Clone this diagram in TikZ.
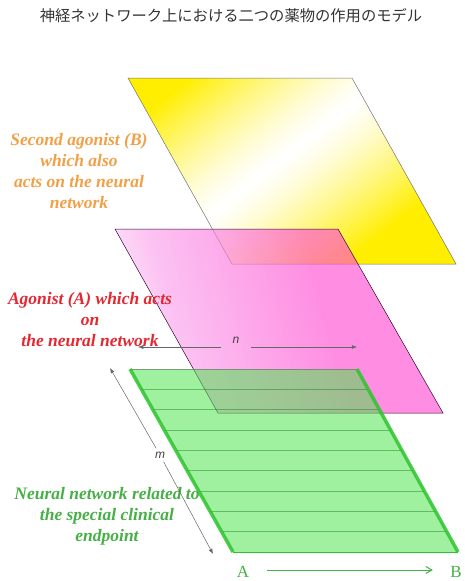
\documentclass[tikz,border=0pt]{standalone}
\usepackage{fontspec}
\setmainfont{Liberation Serif}
\setsansfont{Liberation Sans}
\newfontfamily\jpfont{Noto Sans CJK JP}
\usetikzlibrary{calc,arrows.meta}
\definecolor{agoB}{RGB}{242,160,70}
\definecolor{agoA}{RGB}{228,40,50}
\definecolor{netG}{RGB}{70,175,70}
\definecolor{sheetG}{RGB}{80,228,80}
\definecolor{edgeG}{RGB}{45,195,45}
\definecolor{pinkP}{RGB}{255,80,210}
\definecolor{pinkL}{RGB}{250,160,235}
\definecolor{yelY}{RGB}{255,238,0}
\pgfdeclarehorizontalshading{pinksheet}{100bp}{color(0bp)=(white); color(18bp)=(white);
  color(33bp)=(pinkL); color(58bp)=(pinkP); color(100bp)=(pinkP)}

\begin{document}
\begin{tikzpicture}[x=1pt,y=-1pt,>=Latex,
  sheet/.style={draw=black!55,line width=0.5pt},
  lbl/.style={font=\bfseries\itshape\fontsize{17.5}{21}\selectfont,align=center},
  dimline/.style={->,black!60,line width=0.5pt},
  stripe/.style={draw=green!45!black,draw opacity=0.4,line width=0.5pt}]
  \useasboundingbox (0,0) rectangle (465,581);
  % title
  \node[font=\jpfont\fontsize{15.3}{18}\selectfont,text=black!80] (title) at (231,16)
    {神経ネットワーク上における二つの薬物の作用のモデル};
  % corners of the three sheets
  \coordinate (Y1) at (128,78);  \coordinate (Y2) at (352,78);
  \coordinate (Y3) at (456,264); \coordinate (Y4) at (232,264);
  \coordinate (P1) at (115,229); \coordinate (P2) at (338,229);
  \coordinate (P3) at (443,413); \coordinate (P4) at (218,413);
  \coordinate (G1) at (130,369); \coordinate (G2) at (357,369);
  \coordinate (G3) at (458,552); \coordinate (G4) at (233,552);
  % second agonist (B), white band across the yellow
  \begin{scope}
    \clip (Y1)--(Y2)--(Y3)--(Y4)--cycle;
    \begin{scope}[shift={(282,160)},rotate=-52]
      \foreach \t in {-220,-216,...,220}{
        \pgfmathtruncatemacro\p{min(100,100*(abs(\t)/120)^1.3)}
        \fill[yelY!\p!white] (\t-2.6,-320) rectangle (\t+2.6,320);
      }
    \end{scope}
  \end{scope}
  \draw[sheet] (Y1)--(Y2)--(Y3)--(Y4)--cycle;
  % agonist (A)
  \shade[shading=pinksheet,shading angle=15,fill opacity=0.65]
    (P1)--(P2)--(P3)--(P4)--cycle;
  \draw[sheet,draw=black!60!violet] (P1)--(P2)--(P3)--(P4)--cycle;
  % neural network
  \fill[sheetG,fill opacity=0.55] (G1)--(G2)--(G3)--(G4)--cycle;
  \foreach \i in {1,...,8}
    \draw[stripe] ($(G1)!\i/9!(G4)$) -- ($(G2)!\i/9!(G3)$);
  \draw[black!60,draw opacity=0.6,line width=0.6pt] (G1)--(G2);
  \draw[edgeG,line width=0.6pt] (G4)--(G3);
  \draw[edgeG,draw opacity=0.85,line width=3.5pt] (G1)--(G4) (G2)--(G3);
  % labels
  \node[lbl,text=agoB] (labB) at (79,171)
    {Second agonist (B)\\which also\\acts on the neural\\network};
  \node[lbl,text=agoA] (labA) at (90,320)
    {Agonist (A) which acts\\on\\the neural network};
  \node[lbl,text=netG] (labN) at (107,516)
    {Neural network related to\\the special clinical\\endpoint};
  % n and m
  \coordinate (nL) at (138,347); \coordinate (nR) at (357,347);
  \node[font=\sffamily\itshape\fontsize{12}{14}\selectfont,text=black!75] (nlab) at (236,340) {n};
  \draw[dimline] (nlab.west |- nL) ++(-8,0) -- (nL);
  \draw[dimline] (nlab.east |- nR) ++(8,0) -- (nR);
  \coordinate (mT) at (110,368); \coordinate (mB) at (213,554);
  \node[font=\sffamily\itshape\fontsize{12}{14}\selectfont,text=black!75] (mlab) at (160,455) {m};
  \draw[dimline] (mlab) -- (mT);
  \draw[dimline] (mlab) -- (mB);
  % A to B
  \node[font=\fontsize{17}{20}\selectfont,text=netG] (A) at (243,572) {A};
  \node[font=\fontsize{17}{20}\selectfont,text=netG] (B) at (456,572) {B};
  \draw[-{Straight Barb[length=6pt,width=7pt]},netG,line width=1pt,shorten <=14pt,shorten >=14pt]
    ([yshift=2pt]A.east) -- ([yshift=2pt]B.west);
\end{tikzpicture}
\end{document}
